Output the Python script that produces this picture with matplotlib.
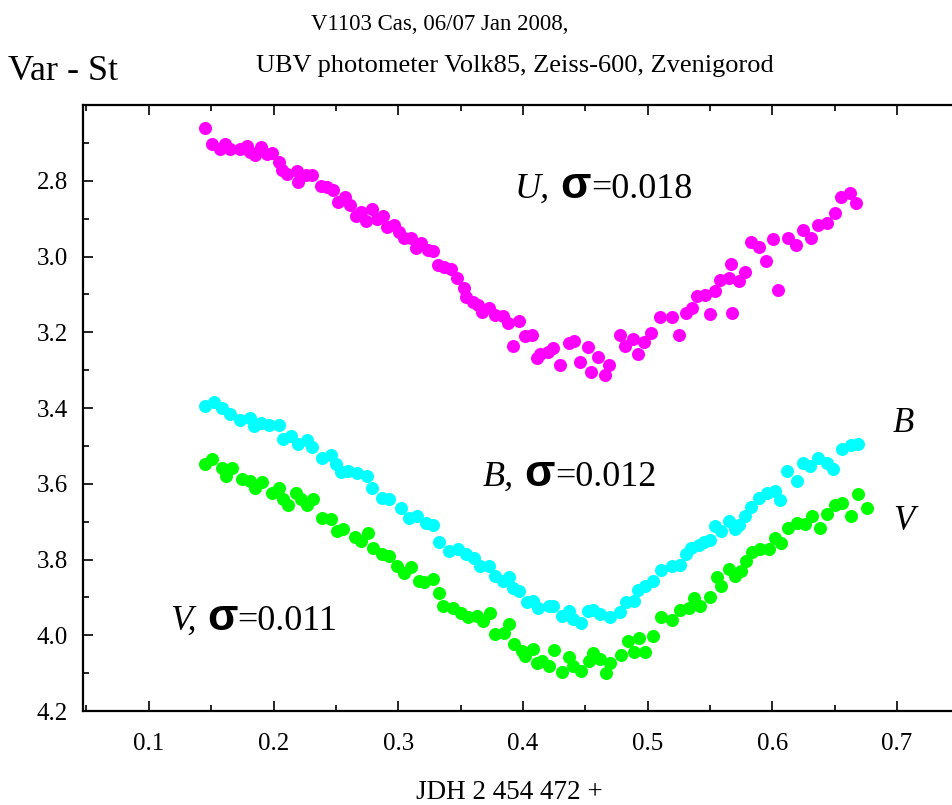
import matplotlib
matplotlib.use("Agg")
import matplotlib.pyplot as plt
from matplotlib.transforms import IdentityTransform

# ---------------- data ----------------
u_x = [0.145, 0.151, 0.157, 0.161, 0.165, 0.173, 0.179, 0.181, 0.185, 0.190,
       0.195, 0.199, 0.204, 0.207, 0.211, 0.219, 0.220, 0.226, 0.231, 0.238,
       0.243, 0.248, 0.252, 0.257, 0.261, 0.266, 0.270, 0.274, 0.279, 0.283,
       0.288, 0.291, 0.297, 0.301, 0.305, 0.310, 0.314, 0.318, 0.324, 0.328,
       0.332, 0.337, 0.342, 0.347, 0.353, 0.354, 0.360, 0.364, 0.367, 0.373,
       0.378, 0.384, 0.388, 0.392, 0.397, 0.402, 0.407, 0.411, 0.414, 0.420,
       0.424, 0.430, 0.437, 0.441, 0.446, 0.452, 0.455, 0.460, 0.466, 0.469,
       0.478, 0.482, 0.488, 0.492, 0.497, 0.503, 0.510, 0.520, 0.525, 0.531,
       0.536, 0.540, 0.546, 0.550, 0.554, 0.558, 0.565, 0.567, 0.568, 0.573,
       0.578, 0.583, 0.589, 0.595, 0.601, 0.605, 0.613, 0.619, 0.625, 0.631,
       0.637, 0.644, 0.650, 0.655, 0.662, 0.667]
u_y = [2.660, 2.704, 2.715, 2.704, 2.715, 2.715, 2.708, 2.725, 2.732, 2.710,
       2.730, 2.728, 2.750, 2.772, 2.783, 2.774, 2.803, 2.785, 2.785, 2.814,
       2.816, 2.825, 2.855, 2.842, 2.864, 2.892, 2.882, 2.906, 2.875, 2.901,
       2.892, 2.921, 2.917, 2.934, 2.952, 2.950, 2.978, 2.965, 2.983, 2.985,
       3.022, 3.027, 3.033, 3.056, 3.084, 3.106, 3.119, 3.128, 3.147, 3.136,
       3.154, 3.158, 3.176, 3.237, 3.170, 3.211, 3.208, 3.268, 3.258, 3.251,
       3.242, 3.286, 3.228, 3.222, 3.279, 3.239, 3.305, 3.266, 3.312, 3.286,
       3.208, 3.236, 3.218, 3.258, 3.226, 3.202, 3.160, 3.160, 3.207, 3.149,
       3.136, 3.103, 3.101, 3.152, 3.090, 3.062, 3.057, 3.020, 3.148, 3.066,
       3.042, 2.961, 2.974, 3.011, 2.954, 3.088, 2.952, 2.969, 2.930, 2.950,
       2.917, 2.911, 2.886, 2.842, 2.833, 2.860]

b_x = [0.145, 0.152, 0.159, 0.165, 0.173, 0.181, 0.184, 0.190, 0.196, 0.204,
       0.208, 0.214, 0.220, 0.227, 0.231, 0.239, 0.246, 0.250, 0.254, 0.260,
       0.267, 0.275, 0.279, 0.287, 0.293, 0.302, 0.309, 0.315, 0.322, 0.328,
       0.333, 0.341, 0.348, 0.354, 0.361, 0.366, 0.373, 0.378, 0.384, 0.389,
       0.392, 0.397, 0.403, 0.408, 0.412, 0.421, 0.424, 0.431, 0.437, 0.440,
       0.447, 0.452, 0.456, 0.462, 0.470, 0.478, 0.483, 0.489, 0.492, 0.498,
       0.504, 0.511, 0.520, 0.526, 0.531, 0.535, 0.541, 0.545, 0.550, 0.554,
       0.559, 0.565, 0.570, 0.573, 0.578, 0.583, 0.589, 0.596, 0.602, 0.606,
       0.612, 0.620, 0.625, 0.630, 0.637, 0.644, 0.649, 0.656, 0.663, 0.669]
b_y = [3.394, 3.385, 3.400, 3.417, 3.432, 3.426, 3.448, 3.439, 3.446, 3.446,
       3.483, 3.475, 3.496, 3.485, 3.503, 3.531, 3.525, 3.549, 3.569, 3.567,
       3.571, 3.580, 3.611, 3.637, 3.641, 3.663, 3.690, 3.685, 3.703, 3.710,
       3.755, 3.778, 3.773, 3.786, 3.795, 3.817, 3.817, 3.843, 3.857, 3.847,
       3.874, 3.883, 3.912, 3.909, 3.927, 3.923, 3.924, 3.950, 3.936, 3.958,
       3.968, 3.936, 3.933, 3.944, 3.953, 3.938, 3.912, 3.909, 3.880, 3.870,
       3.857, 3.828, 3.817, 3.815, 3.786, 3.769, 3.763, 3.754, 3.749, 3.712,
       3.725, 3.699, 3.720, 3.710, 3.685, 3.661, 3.637, 3.624, 3.620, 3.643,
       3.567, 3.593, 3.545, 3.554, 3.531, 3.545, 3.560, 3.508, 3.499, 3.494]

v_x = [0.145, 0.151, 0.159, 0.162, 0.167, 0.175, 0.181, 0.185, 0.191, 0.199,
       0.204, 0.208, 0.212, 0.218, 0.222, 0.227, 0.232, 0.239, 0.246, 0.251,
       0.256, 0.265, 0.270, 0.276, 0.280, 0.287, 0.293, 0.299, 0.305, 0.310,
       0.317, 0.321, 0.328, 0.333, 0.336, 0.344, 0.350, 0.356, 0.363, 0.368,
       0.374, 0.378, 0.385, 0.389, 0.393, 0.399, 0.402, 0.408, 0.411, 0.415,
       0.421, 0.425, 0.431, 0.437, 0.440, 0.447, 0.453, 0.456, 0.462, 0.467,
       0.470, 0.479, 0.484, 0.489, 0.493, 0.498, 0.504, 0.511, 0.520, 0.526,
       0.533, 0.537, 0.542, 0.550, 0.556, 0.559, 0.565, 0.570, 0.575, 0.579,
       0.584, 0.590, 0.597, 0.602, 0.607, 0.613, 0.620, 0.626, 0.632, 0.638,
       0.644, 0.650, 0.656, 0.663, 0.669, 0.676]
v_y = [3.547, 3.534, 3.558, 3.580, 3.558, 3.587, 3.593, 3.611, 3.596, 3.624,
       3.611, 3.641, 3.655, 3.624, 3.640, 3.657, 3.640, 3.690, 3.694, 3.725,
       3.720, 3.740, 3.751, 3.731, 3.769, 3.786, 3.791, 3.817, 3.835, 3.821,
       3.857, 3.859, 3.852, 3.889, 3.924, 3.927, 3.940, 3.953, 3.949, 3.962,
       3.940, 3.997, 3.995, 3.971, 4.023, 4.041, 4.054, 4.037, 4.074, 4.067,
       4.081, 4.038, 4.098, 4.058, 4.081, 4.094, 4.067, 4.047, 4.063, 4.100,
       4.072, 4.052, 4.015, 4.044, 4.006, 4.044, 4.002, 3.953, 3.959, 3.933,
       3.927, 3.902, 3.923, 3.898, 3.845, 3.871, 3.824, 3.843, 3.830, 3.804,
       3.780, 3.773, 3.771, 3.742, 3.757, 3.716, 3.703, 3.707, 3.685, 3.716,
       3.681, 3.655, 3.650, 3.685, 3.628, 3.663]

y_ticks = [2.8, 3.0, 3.2, 3.4, 3.6, 3.8, 4.0, 4.2]
y_tick_labels = ["2.8", "3.0", "3.2", "3.4", "3.6", "3.8", "4.0", "4.2"]
x_ticks = [0.1, 0.2, 0.3, 0.4, 0.5, 0.6, 0.7]
x_tick_labels = ["0.1", "0.2", "0.3", "0.4", "0.5", "0.6", "0.7"]

title1 = "V1103 Cas, 06/07 Jan 2008,"
title2 = "UBV photometer Volk85, Zeiss-600, Zvenigorod"
ylabel = "Var - St"
xlabel = "JDH 2 454 472 +"

# ---------------- figure ----------------
SERIF = "Liberation Serif"
plt.rcParams["font.family"] = [SERIF, "DejaVu Serif"]

W, H = 952, 805
fig = plt.figure(figsize=(W / 100, H / 100), dpi=100)
ax = fig.add_axes([83 / W, 1 - 711 / H, 1 - 83 / W + 0.002, (711 - 105) / H])

ax.scatter(u_x, u_y, s=88, color="#ff00ff", linewidths=0, zorder=3)
ax.scatter(b_x, b_y, s=88, color="#00ffff", linewidths=0, zorder=3)
ax.scatter(v_x, v_y, s=88, color="#00ff00", linewidths=0, zorder=3)

ax.set_xlim(0.0472, 0.7457)
ax.set_ylim(4.2, 2.6)
ax.set_xticks(x_ticks)
ax.set_xticklabels(x_tick_labels)
ax.set_yticks(y_ticks)
ax.set_yticklabels(y_tick_labels)
ax.set_xticks([0.05 + 0.1 * i for i in range(7)], minor=True)
ax.set_yticks([2.7 + 0.2 * i for i in range(8)], minor=True)

ax.spines["right"].set_visible(False)
for s in ["left", "top", "bottom"]:
    ax.spines[s].set_linewidth(1.6)
ax.tick_params(which="both", direction="in", top=True, right=False,
               width=1.2, labelsize=18)
ax.tick_params(which="major", length=7)
ax.tick_params(which="minor", length=4)
ax.tick_params(axis="x", pad=16)
ax.tick_params(axis="y", pad=11)

# titles and labels
fig.text(440 / W, 1 - 30 / H, title1, ha="center", va="baseline", fontsize=16.5)
fig.text(515 / W, 1 - 72 / H, title2, ha="center", va="baseline", fontsize=19)
fig.text(8 / W, 1 - 80 / H, ylabel, ha="left", va="baseline", fontsize=26)
fig.text(509 / W, 1 - 799 / H, xlabel, ha="center", va="baseline", fontsize=19.5)

fig.canvas.draw()
renderer = fig.canvas.get_renderer()


def rich(x0, y0_top, pieces):
    x = x0
    for s, kw in pieces:
        t = fig.text(x, H - y0_top, s, transform=IdentityTransform(),
                     ha="left", va="baseline", **kw)
        bb = t.get_window_extent(renderer)
        x = bb.x1


def sigma_label(x0, ytop, band, val):
    rich(x0, ytop, [
        (band + ",", dict(fontsize=26, style="italic")),
        ("  ", dict(fontsize=15)),
        ("\u03c3", dict(fontsize=32, weight="bold",
                         family=["Liberation Sans", "DejaVu Sans"])),
        ("=" + val, dict(fontsize=26)),
    ])


sigma_label(515, 198, "U", "0.018")
sigma_label(483, 486, "B", "0.012")
sigma_label(170, 630, "V", "0.011")
fig.text(893, H - 432, "B", transform=IdentityTransform(), ha="left",
         va="baseline", fontsize=25, style="italic")
fig.text(893, H - 530, "V", transform=IdentityTransform(), ha="left",
         va="baseline", fontsize=25, style="italic")

fig.savefig("out.png", dpi=100)
